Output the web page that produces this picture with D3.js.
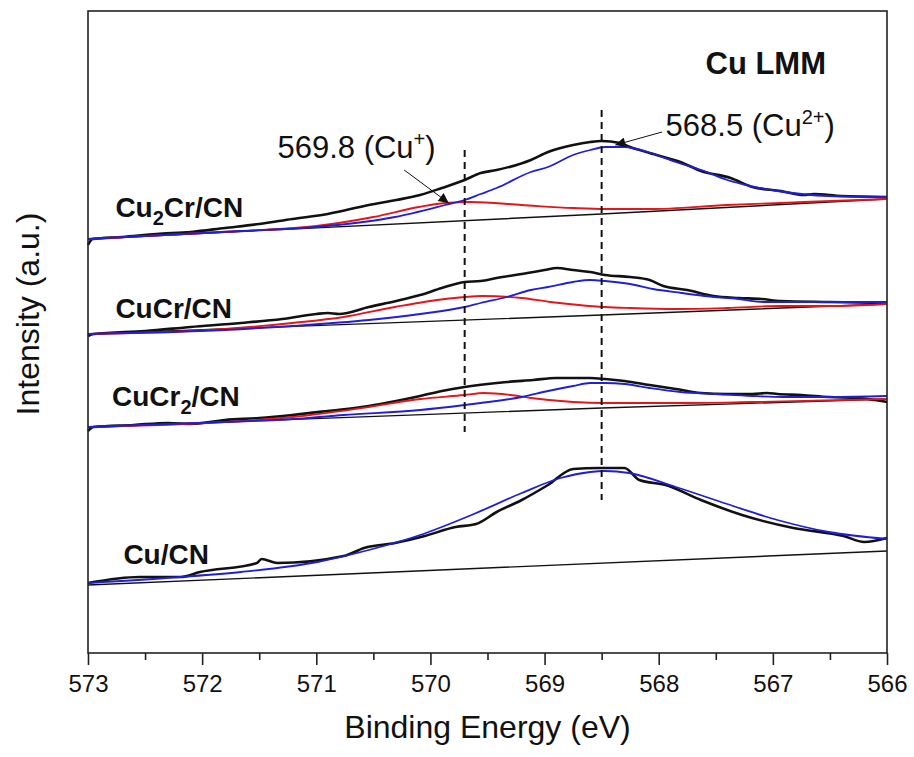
<!DOCTYPE html>
<html>
<head>
<meta charset="utf-8">
<script src="https://cdn.jsdelivr.net/npm/d3@7"></script>
<style>
  html, body { margin: 0; padding: 0; background: #fff; }
  svg text { font-family: Arial, "Liberation Sans", sans-serif; fill: #111; }
</style>
</head>
<body>
<div id="chart"></div>
<script>
// Cu LMM Auger spectra, values as [binding energy (eV), stacked intensity (a.u.)]
const energyTicks = [573, 572, 571, 570, 569, 568, 567, 566];
const minorTicks = [572.5, 571.5, 570.5, 569.5, 568.5, 567.5, 566.5];

// Cu2Cr/CN
const cu2crRaw = [[573, 4.08], [572.96, 4.14], [572.7, 4.16], [572.4, 4.19], [572.1, 4.21], [571.8, 4.25], [571.5, 4.29],
  [571.21, 4.34], [570.9, 4.39], [570.54, 4.48], [570.3, 4.53], [570.09, 4.58], [569.9, 4.65], [569.7, 4.73], [569.56, 4.80],
  [569.42, 4.83], [569.12, 4.93], [568.97, 5.01], [568.75, 5.08], [568.6, 5.11], [568.5, 5.12], [568.34, 5.10], [568.25, 5.06],
  [568.08, 5.00], [567.81, 4.91], [567.63, 4.82], [567.37, 4.75], [567.18, 4.66], [566.93, 4.62], [566.73, 4.58],
  [566.64, 4.59], [566.4, 4.57], [566.0, 4.56]];
const cu2crBg = [[573, 4.14], [568.5, 4.39], [566, 4.54]];
const cu2crCuI = [[573, 4.14], [571.66, 4.22], [571.0, 4.27], [570.5, 4.36], [570.1, 4.46], [569.87, 4.50], [569.64, 4.51],
  [569.2, 4.48], [568.75, 4.45], [568.47, 4.44], [568.08, 4.44], [567.4, 4.48], [566.93, 4.50], [566.73, 4.51], [566.0, 4.54]];
const cu2crCuII = [[573, 4.14], [571.66, 4.22], [571.0, 4.26], [570.31, 4.36], [569.87, 4.48], [569.7, 4.53], [569.56, 4.59],
  [569.42, 4.65], [569.12, 4.81], [568.97, 4.86], [568.75, 4.98], [568.6, 5.03], [568.47, 5.06], [568.3, 5.06], [568.1, 5.01],
  [567.85, 4.91], [567.6, 4.82], [567.4, 4.73], [567.2, 4.67], [566.96, 4.62], [566.51, 4.57], [566.0, 4.56]];

// CuCr/CN
const cucrRaw = [[573, 3.17], [572.95, 3.19], [572.5, 3.22], [572.1, 3.26], [571.66, 3.30], [571.3, 3.34], [571.0, 3.39],
  [570.9, 3.40], [570.8, 3.39], [570.54, 3.46], [570.3, 3.52], [570.09, 3.58], [569.9, 3.65], [569.7, 3.71], [569.56, 3.72],
  [569.42, 3.75], [569.15, 3.80], [569.0, 3.83], [568.89, 3.85], [568.75, 3.83], [568.6, 3.81], [568.47, 3.78], [568.25, 3.76],
  [568.08, 3.73], [567.96, 3.67], [567.75, 3.63], [567.52, 3.57], [567.3, 3.55], [567.1, 3.54], [566.93, 3.52], [566.5, 3.51],
  [566.0, 3.50]];
const cucrBg = [[573, 3.19], [568.5, 3.38], [566, 3.49]];
const cucrCuI = [[573, 3.19], [571.8, 3.24], [571.21, 3.30], [570.76, 3.36], [570.31, 3.46], [569.87, 3.54], [569.55, 3.57],
  [569.2, 3.55], [568.95, 3.51], [568.7, 3.48], [568.47, 3.46], [568.25, 3.45], [567.85, 3.44], [567.4, 3.45], [566.93, 3.47],
  [566.5, 3.47], [566.0, 3.49]];
const cucrCuII = [[573, 3.19], [571.8, 3.23], [571.21, 3.27], [570.54, 3.33], [570.09, 3.39], [569.7, 3.46], [569.56, 3.50],
  [569.33, 3.56], [569.12, 3.63], [568.97, 3.66], [568.75, 3.71], [568.6, 3.73], [568.47, 3.72], [568.25, 3.69], [568.05, 3.64],
  [567.8, 3.60], [567.6, 3.57], [567.3, 3.54], [567.08, 3.51], [566.7, 3.51], [566.0, 3.51]];

// CuCr2/CN
const cucr2Raw = [[573, 2.22], [572.95, 2.26], [572.6, 2.28], [572.3, 2.30], [572.1, 2.29], [571.8, 2.33], [571.5, 2.35],
  [571.21, 2.38], [570.9, 2.42], [570.54, 2.47], [570.3, 2.52], [570.09, 2.57], [569.9, 2.62], [569.7, 2.66], [569.5, 2.69],
  [569.33, 2.71], [569.1, 2.73], [568.9, 2.75], [568.75, 2.75], [568.6, 2.75], [568.47, 2.74], [568.3, 2.72], [568.08, 2.68],
  [567.85, 2.64], [567.63, 2.60], [567.4, 2.59], [567.18, 2.59], [567.05, 2.60], [566.96, 2.59], [566.75, 2.58],
  [566.51, 2.56], [566.25, 2.55], [566.11, 2.53], [566.0, 2.51]];
const cucr2Bg = [[573, 2.26], [568.5, 2.45], [566, 2.54]];
const cucr2CuI = [[573, 2.26], [571.8, 2.31], [571.21, 2.36], [570.54, 2.46], [570.09, 2.54], [569.7, 2.58], [569.53, 2.60],
  [569.3, 2.58], [569.12, 2.55], [568.75, 2.51], [568.47, 2.50], [567.85, 2.50], [567.18, 2.51], [566.0, 2.54]];
const cucr2CuII = [[573, 2.26], [571.8, 2.31], [571.2, 2.34], [570.76, 2.38], [570.09, 2.43], [569.7, 2.48], [569.56, 2.50],
  [569.2, 2.56], [568.97, 2.62], [568.75, 2.67], [568.6, 2.70], [568.47, 2.70], [568.3, 2.69], [568.08, 2.65], [567.81, 2.61],
  [567.5, 2.59], [567.18, 2.57], [566.9, 2.56], [566.51, 2.56], [566.0, 2.57]];

// Cu/CN
const cuRaw = [[573, 0.70], [572.55, 0.76], [572.19, 0.76], [572.02, 0.81], [571.52, 0.90], [571.48, 0.94], [571.34, 0.90],
  [570.76, 0.97], [570.58, 1.05], [570.31, 1.10], [570.05, 1.17], [569.78, 1.26], [569.6, 1.29], [569.42, 1.41], [569.2, 1.53],
  [568.97, 1.68], [568.75, 1.84], [568.52, 1.85], [568.3, 1.85], [568.17, 1.73], [567.94, 1.68], [567.63, 1.53], [567.27, 1.38],
  [566.82, 1.25], [566.38, 1.17], [566.2, 1.11], [566.0, 1.15]];
const cuBg = [[573, 0.68], [566, 1.02]];
const cuCuII = [[573, 0.70], [572.19, 0.76], [571.66, 0.81], [570.99, 0.91], [570.54, 1.03], [570.09, 1.18], [569.64, 1.38],
  [569.2, 1.60], [568.86, 1.75], [568.6, 1.81], [568.47, 1.82], [568.26, 1.80], [567.85, 1.66], [567.4, 1.49], [566.96, 1.33],
  [566.51, 1.21], [566.0, 1.14]];

// Peak reference lines: energy and intensity extent
const peakLines = [[569.7, 2.21, 5.03], [568.5, 1.53, 5.43]];

const spectra = [
  { name: 'Cu2Cr/CN', raw: cu2crRaw, bg: cu2crBg, cuI: cu2crCuI, cuII: cu2crCuII },
  { name: 'CuCr/CN', raw: cucrRaw, bg: cucrBg, cuI: cucrCuI, cuII: cucrCuII },
  { name: 'CuCr2/CN', raw: cucr2Raw, bg: cucr2Bg, cuI: cucr2CuI, cuII: cucr2CuII },
  { name: 'Cu/CN', raw: cuRaw, bg: cuBg, cuI: null, cuII: cuCuII }
];

const width = 914;
const height = 757;
const margin = { top: 11, right: 27, bottom: 104, left: 88 };

const svg = d3.select('#chart').append('svg')
  .attr('width', width)
  .attr('height', height);

const x = d3.scaleLinear().domain([573, 566]).range([margin.left, width - margin.right]);
const y = d3.scaleLinear().domain([0, 6.42]).range([height - margin.bottom, margin.top]);

const smooth = d3.line().x(d => x(d[0])).y(d => y(d[1])).curve(d3.curveMonotoneX);
const plain = d3.line().x(d => x(d[0])).y(d => y(d[1]));

const plot = svg.append('g');

// raw data first, fitted curves over it
spectra.forEach(s => {
  plot.append('path').attr('d', smooth(s.raw))
    .attr('fill', 'none').attr('stroke', '#111').attr('stroke-width', 2.6).attr('stroke-linejoin', 'round');
  plot.append('path').attr('d', plain(s.bg))
    .attr('fill', 'none').attr('stroke', '#111').attr('stroke-width', 1.4);
  if (s.cuI) {
    plot.append('path').attr('d', smooth(s.cuI))
      .attr('fill', 'none').attr('stroke', '#e3161b').attr('stroke-width', 1.8);
  }
  plot.append('path').attr('d', smooth(s.cuII))
    .attr('fill', 'none').attr('stroke', '#1f1fd8').attr('stroke-width', 1.8);
});

// dashed peak positions
plot.selectAll('.peak')
  .data(peakLines)
  .join('line')
  .attr('x1', d => x(d[0])).attr('x2', d => x(d[0]))
  .attr('y1', d => y(d[2])).attr('y2', d => y(d[1]))
  .attr('stroke', '#111').attr('stroke-width', 2).attr('stroke-dasharray', '7,5');

// frame
svg.append('rect')
  .attr('x', margin.left).attr('y', margin.top)
  .attr('width', width - margin.left - margin.right)
  .attr('height', height - margin.top - margin.bottom)
  .attr('fill', 'none').attr('stroke', '#222').attr('stroke-width', 1.6);

// x axis
const xAxis = svg.append('g')
  .attr('transform', `translate(0,${height - margin.bottom})`)
  .call(d3.axisBottom(x).tickValues(energyTicks).tickSize(12).tickPadding(10).tickFormat(d3.format('d')));
xAxis.select('.domain').remove();
xAxis.selectAll('line').attr('stroke', '#222').attr('stroke-width', 1.6);
xAxis.selectAll('text').style('font-size', '24px').attr('fill', '#111');

const xMinor = svg.append('g')
  .attr('transform', `translate(0,${height - margin.bottom})`)
  .call(d3.axisBottom(x).tickValues(minorTicks).tickSize(7).tickFormat(''));
xMinor.select('.domain').remove();
xMinor.selectAll('line').attr('stroke', '#222').attr('stroke-width', 1.6);

// axis titles
svg.append('text')
  .attr('x', (margin.left + width - margin.right) / 2)
  .attr('y', 738)
  .attr('text-anchor', 'middle')
  .style('font-size', '32px')
  .text('Binding Energy (eV)');

svg.append('text')
  .attr('transform', 'translate(39,314) rotate(-90)')
  .attr('text-anchor', 'middle')
  .style('font-size', '32px')
  .text('Intensity (a.u.)');

// spectrum labels (with subscripts)
function label(parts, ex, ey) {
  const t = svg.append('text')
    .attr('x', x(ex)).attr('y', y(ey))
    .style('font-size', '28px').style('font-weight', 'bold');
  let shift = 0;
  parts.forEach(p => {
    const dy = p.sub ? 8 - shift : -shift;
    shift = p.sub ? 8 : 0;
    t.append('tspan').attr('dy', dy).style('font-size', p.sub ? '20px' : '28px').text(p.t);
  });
}
label([{ t: 'Cu' }, { t: '2', sub: true }, { t: 'Cr/CN' }], 572.76, 4.36);
label([{ t: 'CuCr/CN' }], 572.76, 3.35);
label([{ t: 'CuCr' }, { t: '2', sub: true }, { t: '/CN' }], 572.79, 2.47);
label([{ t: 'Cu/CN' }], 572.69, 0.89);

svg.append('text')
  .attr('x', x(567.59)).attr('y', y(5.79))
  .style('font-size', '31px').style('font-weight', 'bold')
  .text('Cu LMM');

// peak annotations
function note(main, sup, ex, ey) {
  const t = svg.append('text').attr('x', x(ex)).attr('y', y(ey)).style('font-size', '31px');
  t.append('tspan').text(main);
  t.append('tspan').attr('dy', -12).style('font-size', '20px').text(sup);
  t.append('tspan').attr('dy', 12).text(')');
}
note('569.8 (Cu', '+', 571.34, 4.95);
note('568.5 (Cu', '2+', 567.94, 5.17);

svg.append('defs').append('marker')
  .attr('id', 'arrow')
  .attr('viewBox', '0 0 10 10')
  .attr('refX', 10).attr('refY', 5)
  .attr('markerWidth', 12).attr('markerHeight', 10)
  .attr('markerUnits', 'userSpaceOnUse')
  .attr('orient', 'auto')
  .append('path').attr('d', 'M0,0 L10,5 L0,10 Z').attr('fill', '#111');

const arrows = [[570.23, 4.83, 569.84, 4.50], [567.97, 5.21, 568.38, 5.08]];
svg.selectAll('.arrow')
  .data(arrows)
  .join('line')
  .attr('x1', d => x(d[0])).attr('y1', d => y(d[1]))
  .attr('x2', d => x(d[2])).attr('y2', d => y(d[3]))
  .attr('stroke', '#111').attr('stroke-width', 1)
  .attr('marker-end', 'url(#arrow)');
</script>
</body>
</html>
